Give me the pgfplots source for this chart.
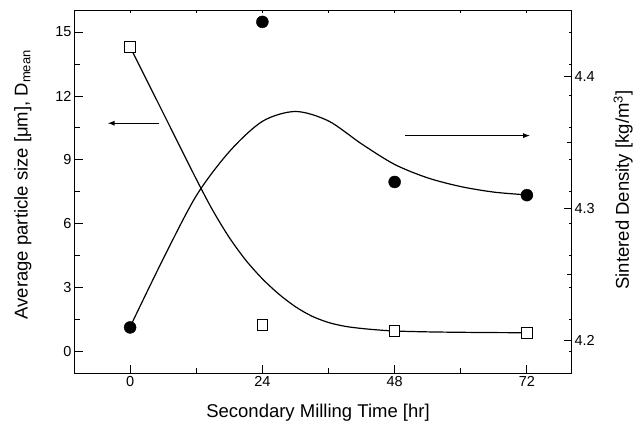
\documentclass[border=0pt]{standalone}
\usepackage{pgfplots}
\pgfplotsset{compat=1.18}
\usepackage{fontspec}
\setmainfont{Liberation Sans}
\usetikzlibrary{arrows.meta}
\begin{document}
\begin{tikzpicture}
\pgfplotsset{
  every axis/.append style={
    scale only axis, width=496pt, height=362.3pt, xmin=-10, xmax=80,
    tick label style={font=\fontsize{14.5}{16}\selectfont},
    label style={font=\fontsize{18.5}{21}\selectfont},
    axis line style={line width=1pt},
    tick align=inside,
    major tick length=8pt, minor tick length=5pt,
    every tick/.style={line width=0.9pt, black},
    /pgf/number format/assume math mode=true,
  }
}
% mirrored tiny ticks (top and right)
\begin{axis}[
  ymin=-1, ymax=16,
  xtick={0,24,48,72}, minor x tick num=1,
  ytick={0,3,...,15}, minor y tick num=1,
  xtick pos=right, ytick pos=right,
  major tick length=2pt, minor tick length=2pt,
  xticklabels={}, yticklabels={},
  axis line style={draw=none},
]
\end{axis}
\begin{axis}[
  ymin=-1, ymax=16,
  xtick={0,24,48,72}, minor x tick num=1,
  ytick={0,3,...,15}, minor y tick num=1,
  xtick pos=left, ytick pos=left,
  xlabel={Secondary Milling Time [hr]},
  ylabel={Average particle size [μm], D\textsubscript{mean}},
  xlabel style={at={(axis description cs:0.49,-0.11)}, anchor=center},
  ylabel style={at={(axis description cs:-0.105,0.52)}, anchor=center},
]
\addplot[smooth, black, line width=1.2pt] coordinates {
(0,14.3) (6,11.2) (12,8.1) (15,6.63) (18,5.355) (21,4.29) (24,3.42) (27,2.70)
(30,2.11) (33,1.665) (36,1.37) (39,1.19) (42,1.09) (45,1.02) (48,0.97)
(54,0.93) (60,0.91) (66,0.897) (72,0.89)
};
\addplot[only marks, mark=square*, mark size=5.3pt, mark options={fill=white, draw=black, line width=0.9pt}] coordinates {
(0,14.3) (24,1.25) (48,0.97) (72,0.89)
};
\draw[line width=1.2pt, -{Latex[length=7pt,width=5pt]}] (axis cs:5.3,10.72) -- (axis cs:-4.1,10.72);
\end{axis}
\begin{axis}[
  axis x line=none, axis y line*=right,
  ymin=4.175, ymax=4.45,
  ytick={4.2,4.3,4.4}, minor ytick={4.25,4.35},
  major tick length=7pt, minor tick length=4pt,
  yticklabel style={/pgf/number format/fixed, /pgf/number format/precision=1, /pgf/number format/fixed zerofill},
  ylabel={Sintered Density [kg/m\textsuperscript{3}]},
  ylabel style={at={(axis description cs:1.105,0.505)}, anchor=center},
]
\addplot[smooth, black, line width=1.2pt] coordinates {
(0,4.210) (6,4.2616) (12,4.3095) (18,4.343) (24,4.366) (30,4.3735) (36,4.3663)
(42,4.3489) (48,4.3333) (54,4.3231) (60,4.3165) (66,4.3123) (72,4.3102)
};
\addplot[only marks, mark=*, mark size=6pt, mark options={fill=black, draw=black}] coordinates {
(0,4.2096) (24,4.4415) (48,4.320) (72,4.310)
};
\draw[line width=1.2pt, -{Latex[length=7pt,width=5pt]}] (axis cs:49.9,4.3552) -- (axis cs:72.6,4.3552);
\end{axis}
\pgfresetboundingbox
\path[use as bounding box] (-75pt,-59pt) rectangle (569pt,373pt);
\end{tikzpicture}
\end{document}
